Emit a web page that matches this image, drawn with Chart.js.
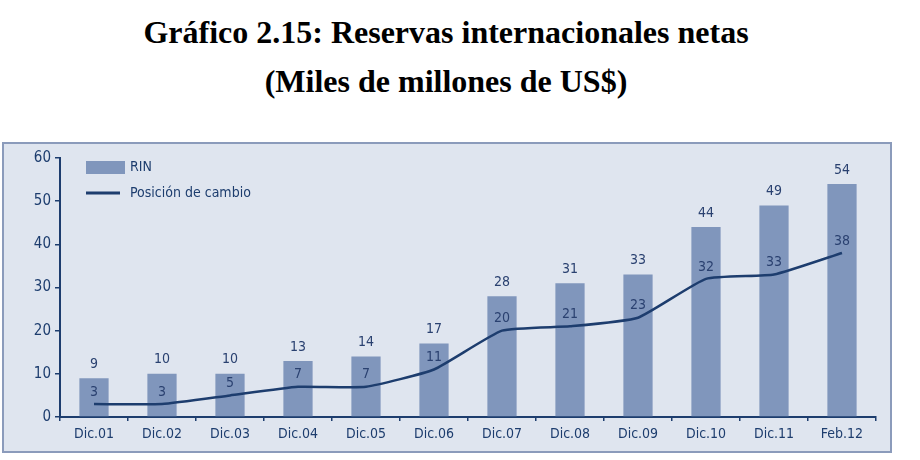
<!DOCTYPE html>
<html>
<head>
<meta charset="utf-8">
<script src="https://cdn.jsdelivr.net/npm/chart.js@4.4.1/dist/chart.umd.min.js"></script>
<style>
  body { margin: 0; background: #fff; width: 920px; height: 460px; position: relative; overflow: hidden; }
  .title { position: absolute; left: 0; width: 892px; text-align: center; line-height: 32px;
           font-family: 'Liberation Serif', 'Times New Roman', serif; font-weight: bold; font-size: 32px; color: #000; }
  #box { position: absolute; left: 2px; top: 142px; width: 886px; height: 307px;
         border: 2px solid #8b9bbb; background: #dfe5ef; }
</style>
</head>
<body>
<div class="title" style="top:16px">Gráfico 2.15: Reservas internacionales netas</div>
<div class="title" style="top:65px">(Miles de millones de US$)</div>
<div id="box"><canvas id="chart"></canvas></div>
<script>
var categories = ['Dic.01','Dic.02','Dic.03','Dic.04','Dic.05','Dic.06','Dic.07','Dic.08','Dic.09','Dic.10','Dic.11','Feb.12'];
var rin = [9, 10, 10, 13, 14, 17, 28, 31, 33, 44, 49, 54];
var posicion = [3, 3, 5, 7, 7, 11, 20, 21, 23, 32, 33, 38];
var yTicks = [0, 10, 20, 30, 40, 50, 60];

var navy = '#1d3d6e';
var barColor = '#8096bc';
var font = "'DejaVu Sans Condensed', sans-serif";

// value labels above bars and line points
var valueLabels = {
    id: 'valueLabels',
    afterDatasetsDraw: function(chart) {
        var ctx = chart.ctx;
        ctx.save();
        ctx.font = '14px ' + font;
        ctx.textAlign = 'center';
        ctx.textBaseline = 'bottom';
        ctx.fillStyle = '#2a4170';
        chart.data.datasets.forEach(function(ds, i) {
            var meta = chart.getDatasetMeta(i);
            meta.data.forEach(function(el, j) {
                var off = ds.type === 'line' ? 5 : 7;
                ctx.fillText(String(ds.data[j]), el.x, el.y - off);
            });
        });
        ctx.restore();
    }
};

// legend drawn inside the plot, top left
var innerLegend = {
    id: 'innerLegend',
    afterDraw: function(chart) {
        var ctx = chart.ctx;
        var ds = chart.data.datasets;
        ctx.save();
        ctx.font = '14px ' + font;
        ctx.textBaseline = 'middle';
        ctx.fillStyle = barColor;
        ctx.fillRect(82, 17, 39, 13);
        ctx.strokeStyle = navy;
        ctx.lineWidth = 3;
        ctx.beginPath();
        ctx.moveTo(82, 49);
        ctx.lineTo(116, 49);
        ctx.stroke();
        ctx.fillStyle = navy;
        ctx.fillText(ds[1].label, 126, 23);
        ctx.fillText(ds[0].label, 126, 49);
        ctx.restore();
    }
};

new Chart(document.getElementById('chart'), {
    data: {
        labels: categories,
        datasets: [
            {
                type: 'line',
                label: 'Posición de cambio',
                data: posicion,
                borderColor: navy,
                borderWidth: 2.5,
                pointRadius: 0,
                tension: 0.15,
                order: 0
            },
            {
                type: 'bar',
                label: 'RIN',
                data: rin,
                backgroundColor: barColor,
                categoryPercentage: 1,
                barPercentage: 0.43,
                order: 1
            }
        ]
    },
    options: {
        responsive: true,
        maintainAspectRatio: false,
        animation: false,
        layout: { padding: { top: 14, right: 14, left: 0, bottom: 0 } },
        plugins: { legend: { display: false }, tooltip: { enabled: false } },
        scales: {
            x: {
                offset: true,
                grid: { display: true, offset: true, drawOnChartArea: false, drawTicks: true, tickLength: 4, color: navy, lineWidth: 1.5 },
                border: { display: true, color: navy, width: 2 },
                ticks: { color: navy, font: { family: font, size: 14 }, padding: 5, maxRotation: 0 },
                afterFit: function(s) { s.height = 34; }
            },
            y: {
                min: 0,
                max: 60,
                afterBuildTicks: function(s) { s.ticks = yTicks.map(function(v) { return { value: v }; }); },
                grid: { display: true, drawOnChartArea: false, drawTicks: true, tickLength: 5, color: navy, lineWidth: 1.5 },
                border: { display: true, color: navy, width: 2 },
                ticks: { color: navy, font: { family: font, size: 15 }, padding: 4 },
                afterFit: function(s) { s.width = 56; }
            }
        }
    },
    plugins: [valueLabels, innerLegend]
});
</script>
</body>
</html>
